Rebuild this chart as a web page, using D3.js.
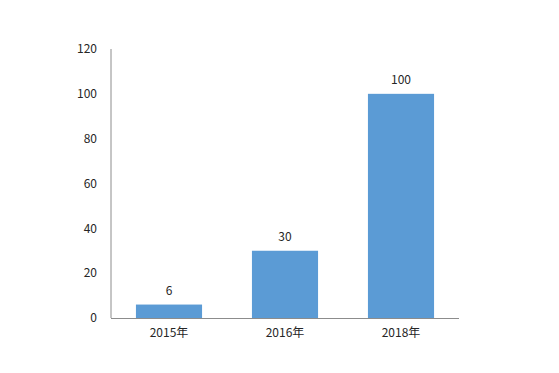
<!DOCTYPE html>
<meta charset="utf-8">
<style>
  body { margin: 0; background: #fff; }
  text { font-family: "Noto Sans CJK SC", "DejaVu Sans", sans-serif; font-size: 12px; fill: #262626; }
  .axis path { stroke: #8c8c8c; }
</style>
<body></body>
<script src="https://d3js.org/d3.v7.min.js"></script>
<script>
  var years = ["2015年", "2016年", "2018年"];
  var values = [6, 30, 100];
  var yTicks = [0, 20, 40, 60, 80, 100, 120];

  var margin = {top: 49, right: 100, bottom: 55, left: 111},
    width = 559 - margin.left - margin.right,
    height = 373 - margin.top - margin.bottom;

  var svg = d3.select("body").append("svg")
    .attr("width", 559).attr("height", 373);

  var g = svg.append("g")
    .attr("transform", "translate(" + margin.left + "," + margin.top + ")");

  var x = d3.scaleBand().domain(years).range([0, width]).paddingInner(0.43).paddingOuter(0.215);
  var y = d3.scaleLinear().domain([0, 120]).range([height, 0]);

  // y axis: line only, labels placed by hand
  g.append("line")
    .attr("x1", 0).attr("x2", 0).attr("y1", y(120)).attr("y2", y(0))
    .attr("stroke", "#8c8c8c");
  g.selectAll(".ylab").data(yTicks).enter().append("text")
    .attr("class", "ylab")
    .attr("x", -14).attr("y", function(d) { return y(d); })
    .attr("dy", "0.35em").attr("text-anchor", "end")
    .text(function(d) { return d; });

  g.selectAll(".bar").data(values).enter().append("rect")
    .attr("class", "bar")
    .attr("x", function(d, i) { return x(years[i]); })
    .attr("y", function(d) { return y(d); })
    .attr("width", x.bandwidth())
    .attr("height", function(d) { return height - y(d); })
    .attr("fill", "#5b9bd5");

  g.selectAll(".vlab").data(values).enter().append("text")
    .attr("class", "vlab")
    .attr("x", function(d, i) { return x(years[i]) + x.bandwidth() / 2; })
    .attr("y", function(d) { return y(d) - 10; })
    .attr("text-anchor", "middle")
    .text(function(d) { return d; });

  var xAxis = g.append("g").attr("class", "axis")
    .attr("transform", "translate(0," + height + ")")
    .call(d3.axisBottom(x).tickSize(0).tickPadding(10));
  xAxis.select(".domain").attr("d", "M0,0.5H" + width);
  xAxis.selectAll("text").style("font-size", "12px").attr("fill", "#262626");
</script>
